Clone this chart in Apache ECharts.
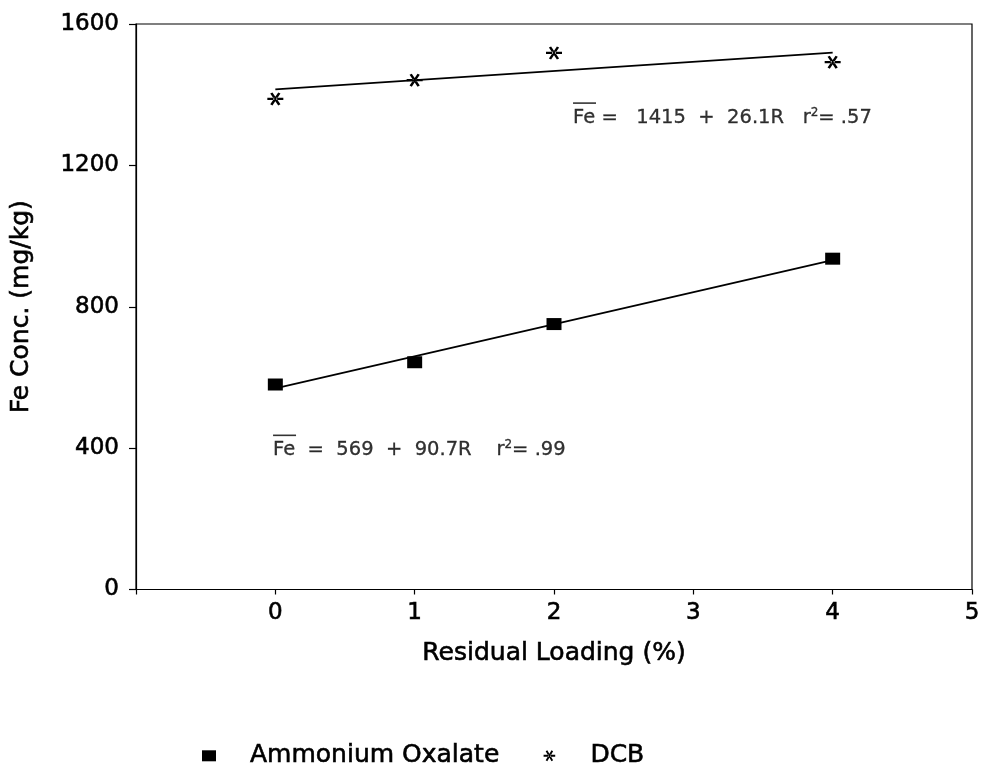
<!DOCTYPE html>
<html>
<head>
<meta charset="utf-8">
<script src="https://cdn.jsdelivr.net/npm/echarts@6/dist/echarts.min.js"></script>
<style>
html,body{margin:0;padding:0;background:#fff;}
#chart{width:983px;height:773px;}
</style>
</head>
<body>
<div id="chart"></div>
<script>
// ---- data ----
const loading = [0, 1, 2, 4];                       // Residual Loading (%)
const ammoniumOxalate = [580, 643, 751, 936];       // Fe mg/kg
const dcb = [1388, 1441, 1518, 1492];               // Fe mg/kg
const fitX = [0, 4];                                // regression line ends
const aoFit = [569, 932];                           // 569 + 90.7R
const dcbFit = [1415, 1519];                        // 1415 + 26.1R
const xTicks = [0, 1, 2, 3, 4, 5];
const yTicks = [0, 400, 800, 1200, 1600];
const seriesNames = ['Ammonium Oxalate', 'DCB'];
const annotations = [
  { pos: [2.133, 1338], text: 'Fe =   1415  +  26.1R   r', sup: '2', tail: '= .57' },
  { pos: [-0.02, 398], text: 'Fe  =  569  +  90.7R    r', sup: '2', tail: '= .99' }
];

const FONT = 'DejaVu Sans';
const star = 'path://M0 42 L100 42 L100 58 L0 58 Z M18.1 11.2 L68.1 97.8 L81.9 89.8 L31.9 3.2 Z M68.1 3.2 L18.1 89.8 L31.9 97.8 L81.9 11.2 Z';

const zip = (xs, ys) => xs.map((x, i) => [x, ys[i]]);
const heavy = { textBorderColor: '#000', textBorderWidth: 0.6 };

const chart = echarts.init(document.getElementById('chart'), null, { renderer: 'canvas' });

const annSeries = {
  type: 'scatter',
  name: 'ann',
  silent: true,
  symbolSize: 1,
  itemStyle: { color: 'rgba(0,0,0,0)' },
  z: 5,
  data: annotations.map(a => ({
    value: a.pos,
    label: {
      show: true,
      position: 'right',
      distance: 0,
      offset: [0, -3],
      color: '#000',
      formatter: '{ol| }\n{t|' + a.text + '}{sup|' + a.sup + '}{t|' + a.tail + '}',
      rich: {
        ol: { width: 23, height: 1.6, lineHeight: 8, fontSize: 4, backgroundColor: '#000' },
        t: { fontFamily: FONT, fontSize: 19.5, color: '#000', lineHeight: 21, textBorderColor: '#000', textBorderWidth: 0.3 },
        sup: { fontFamily: FONT, fontSize: 12, color: '#000', lineHeight: 12, verticalAlign: 'top', textBorderColor: '#000', textBorderWidth: 0.3 }
      }
    }
  }))
};

chart.setOption({
  animation: false,
  backgroundColor: '#fff',
  grid: { left: 136, right: 11, top: 24, bottom: 183.5, show: true, borderColor: '#000', borderWidth: 1.2, backgroundColor: 'transparent' },
  xAxis: {
    type: 'value', min: -1, max: 5, interval: 1,
    name: 'Residual Loading (%)', nameLocation: 'middle', nameGap: 51,
    nameTextStyle: Object.assign({ fontFamily: FONT, fontSize: 25, color: '#000' }, heavy),
    axisLine: { onZero: false, lineStyle: { color: '#000', width: 1.2 } },
    axisTick: { show: true, inside: false, length: 5, lineStyle: { color: '#000', width: 1.2 } },
    axisLabel: Object.assign({ fontFamily: FONT, fontSize: 23, color: '#000', margin: 12,
      formatter: v => (xTicks.indexOf(v) >= 0 ? String(v) : '') }, heavy),
    splitLine: { show: false }
  },
  yAxis: {
    type: 'value', min: 0, max: 1600, interval: 400,
    name: 'Fe Conc. (mg/kg)', nameLocation: 'middle', nameGap: 102,
    nameTextStyle: Object.assign({ fontFamily: FONT, fontSize: 25, color: '#000' }, heavy),
    axisLine: { show: true, onZero: false, lineStyle: { color: '#000', width: 1.2 } },
    axisTick: { show: true, inside: false, length: 7, lineStyle: { color: '#000', width: 1.2 } },
    axisLabel: Object.assign({ fontFamily: FONT, fontSize: 23, color: '#000', margin: 17,
      formatter: v => (yTicks.indexOf(v) >= 0 ? String(v) : '') }, heavy),
    splitLine: { show: false }
  },
  legend: {
    data: [
      { name: seriesNames[0], icon: 'rect' },
      { name: seriesNames[1], icon: star }
    ],
    left: 197, top: 738,
    itemWidth: 14, itemHeight: 11, itemGap: 44,
    textStyle: Object.assign({ fontFamily: FONT, fontSize: 25, color: '#000', padding: [0, 0, 0, 29] }, heavy)
  },
  series: [
    {
      type: 'line', name: 'aoFit', data: zip(fitX, aoFit), symbol: 'none',
      lineStyle: { color: '#000', width: 1.6 }, silent: true, z: 2
    },
    {
      type: 'line', name: 'dcbFit', data: zip(fitX, dcbFit), symbol: 'none',
      lineStyle: { color: '#000', width: 1.6 }, silent: true, z: 2
    },
    {
      type: 'scatter', name: seriesNames[0], data: zip(loading, ammoniumOxalate),
      symbol: 'rect', symbolSize: [15, 12], itemStyle: { color: '#000', opacity: 1 }, z: 3
    },
    {
      type: 'scatter', name: seriesNames[1], data: zip(loading, dcb),
      symbol: star, symbolSize: [16, 13], symbolKeepAspect: false, itemStyle: { color: '#000', opacity: 1 }, z: 3
    },
    annSeries
  ]
});
</script>
</body>
</html>
